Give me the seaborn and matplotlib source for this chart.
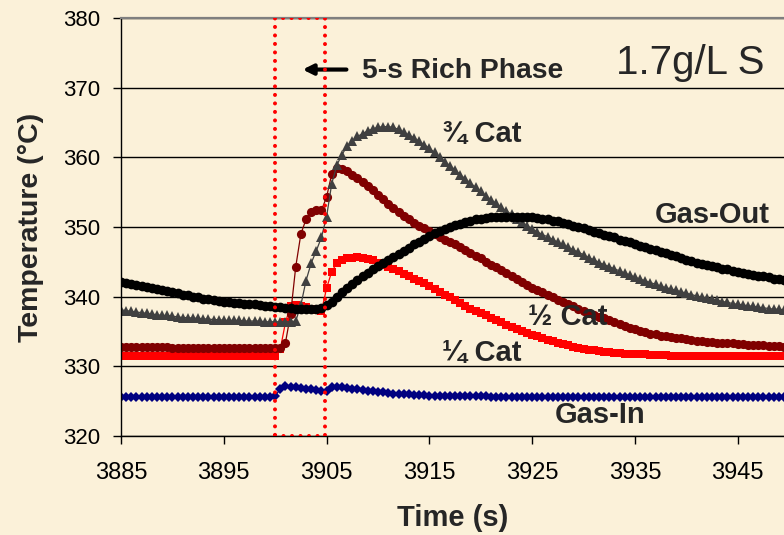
import numpy as np
import pandas as pd
import matplotlib
matplotlib.use("Agg")
import matplotlib.pyplot as plt
import seaborn as sns

# ---------------- data ----------------
t_start, t_step, n_pts = 3885.0, 0.5, 130
time_s = t_start + t_step * np.arange(n_pts)

gas_in = [
    325.6, 325.6, 325.6, 325.6, 325.6, 325.6, 325.6, 325.6, 325.6, 325.6,
    325.6, 325.6, 325.6, 325.6, 325.6, 325.6, 325.6, 325.6, 325.6, 325.6,
    325.6, 325.6, 325.6, 325.6, 325.6, 325.6, 325.6, 325.6, 325.6, 325.6,
    325.7, 326.8, 327.2, 327.1, 327.0, 326.9, 326.8, 326.7, 326.6, 326.5,
    326.4, 327.1, 327.1, 327.0, 326.9, 326.8, 326.7, 326.6, 326.5, 326.4,
    326.3, 326.3, 326.2, 326.1, 326.1, 326.0, 326.0, 325.9, 325.9, 325.9,
    325.8, 325.8, 325.8, 325.8, 325.7, 325.7, 325.7, 325.7, 325.7, 325.7,
    325.7, 325.7, 325.6, 325.6, 325.6, 325.6, 325.6, 325.6, 325.6, 325.6,
    325.6, 325.6, 325.6, 325.6, 325.6, 325.6, 325.6, 325.6, 325.6, 325.6,
    325.6, 325.6, 325.6, 325.6, 325.6, 325.6, 325.6, 325.6, 325.6, 325.6,
    325.6, 325.6, 325.6, 325.6, 325.6, 325.6, 325.6, 325.6, 325.6, 325.6,
    325.6, 325.6, 325.6, 325.6, 325.6, 325.6, 325.6, 325.6, 325.6, 325.6,
    325.6, 325.6, 325.6, 325.6, 325.6, 325.6, 325.6, 325.6, 325.6, 325.6,
]

quarter_cat = [
    331.5, 331.5, 331.5, 331.5, 331.5, 331.5, 331.5, 331.5, 331.5, 331.5,
    331.5, 331.5, 331.5, 331.5, 331.5, 331.5, 331.5, 331.5, 331.5, 331.5,
    331.5, 331.5, 331.5, 331.5, 331.5, 331.5, 331.5, 331.5, 331.5, 331.5,
    331.5, 332.5, 336.3, 338.7, 338.8, 338.7, 338.5, 338.3, 338.1, 337.9,
    341.2, 343.6, 344.8, 345.3, 345.5, 345.6, 345.7, 345.6, 345.4, 345.2,
    344.9, 344.6, 344.3, 344.0, 343.7, 343.3, 343.0, 342.6, 342.3, 341.9,
    341.5, 341.1, 340.7, 340.3, 339.9, 339.5, 339.1, 338.7, 338.3, 338.0,
    337.6, 337.3, 336.9, 336.6, 336.3, 335.9, 335.6, 335.3, 335.1, 334.8,
    334.5, 334.3, 334.0, 333.8, 333.6, 333.4, 333.2, 333.0, 332.8, 332.7,
    332.5, 332.4, 332.3, 332.2, 332.1, 332.0, 331.9, 331.9, 331.8, 331.8,
    331.7, 331.7, 331.7, 331.6, 331.6, 331.6, 331.6, 331.5, 331.5, 331.5,
    331.5, 331.5, 331.5, 331.5, 331.5, 331.5, 331.5, 331.5, 331.5, 331.5,
    331.5, 331.5, 331.5, 331.5, 331.5, 331.5, 331.5, 331.5, 331.5, 331.5,
]

half_cat = [
    332.8, 332.8, 332.8, 332.8, 332.8, 332.8, 332.8, 332.8, 332.8, 332.8,
    332.7, 332.7, 332.7, 332.7, 332.7, 332.7, 332.7, 332.7, 332.7, 332.7,
    332.7, 332.7, 332.7, 332.7, 332.7, 332.6, 332.6, 332.6, 332.6, 332.6,
    332.6, 332.7, 333.4, 337.5, 344.3, 349.0, 351.1, 352.1, 352.4, 352.4,
    354.3, 357.6, 358.4, 358.3, 358.0, 357.5, 357.1, 356.5, 355.9, 355.3,
    354.6, 354.0, 353.3, 352.7, 352.1, 351.6, 351.1, 350.6, 350.2, 349.8,
    349.4, 349.0, 348.6, 348.2, 347.9, 347.5, 347.1, 346.7, 346.3, 345.9,
    345.5, 345.0, 344.6, 344.2, 343.8, 343.4, 343.0, 342.5, 342.1, 341.7,
    341.3, 340.9, 340.6, 340.2, 339.9, 339.5, 339.2, 338.9, 338.6, 338.3,
    338.0, 337.7, 337.4, 337.1, 336.9, 336.6, 336.4, 336.1, 335.8, 335.5,
    335.3, 335.1, 334.9, 334.7, 334.6, 334.4, 334.3, 334.2, 334.1, 334.0,
    333.9, 333.8, 333.7, 333.6, 333.5, 333.5, 333.4, 333.4, 333.3, 333.3,
    333.2, 333.2, 333.1, 333.1, 333.0, 333.0, 332.9, 332.9, 332.9, 332.8,
]

three_quarter_cat = [
    338.1, 338.0, 337.9, 337.8, 337.7, 337.6, 337.5, 337.4, 337.3, 337.3,
    337.2, 337.1, 337.0, 337.0, 336.9, 336.9, 336.8, 336.8, 336.7, 336.7,
    336.6, 336.6, 336.6, 336.6, 336.5, 336.5, 336.5, 336.5, 336.4, 336.4,
    336.4, 336.4, 336.4, 336.4, 336.5, 338.8, 342.3, 344.8, 346.6, 348.5,
    351.5, 356.2, 358.9, 360.4, 361.6, 362.4, 363.0, 363.4, 363.8, 364.1,
    364.3, 364.4, 364.4, 364.3, 364.0, 363.6, 363.2, 362.8, 362.3, 361.8,
    361.3, 360.7, 360.0, 359.4, 358.8, 358.2, 357.5, 356.9, 356.3, 355.7,
    355.1, 354.5, 353.9, 353.4, 352.8, 352.3, 351.8, 351.2, 350.7, 350.2,
    349.7, 349.3, 348.9, 348.6, 348.2, 347.8, 347.5, 347.1, 346.7, 346.4,
    346.0, 345.6, 345.3, 344.9, 344.6, 344.3, 344.0, 343.7, 343.4, 343.1,
    342.8, 342.5, 342.3, 342.0, 341.8, 341.5, 341.3, 341.1, 340.9, 340.7,
    340.5, 340.3, 340.1, 339.9, 339.8, 339.6, 339.5, 339.3, 339.2, 339.0,
    338.9, 338.8, 338.7, 338.6, 338.5, 338.4, 338.3, 338.2, 338.2, 338.1,
]

gas_out = [
    342.1, 342.0, 341.8, 341.7, 341.5, 341.4, 341.2, 341.1, 340.9, 340.8,
    340.6, 340.5, 340.3, 340.2, 340.0, 339.9, 339.7, 339.6, 339.5, 339.4,
    339.3, 339.2, 339.1, 339.1, 339.0, 338.9, 338.9, 338.8, 338.7, 338.6,
    338.5, 338.5, 338.4, 338.4, 338.3, 338.3, 338.2, 338.2, 338.3, 338.4,
    338.8, 339.3, 339.9, 340.6, 341.2, 341.8, 342.4, 342.9, 343.4, 343.9,
    344.4, 344.9, 345.3, 345.7, 346.1, 346.6, 347.0, 347.5, 347.9, 348.3,
    348.7, 349.1, 349.4, 349.7, 350.0, 350.3, 350.5, 350.7, 350.9, 351.1,
    351.2, 351.3, 351.4, 351.5, 351.5, 351.5, 351.5, 351.5, 351.5, 351.5,
    351.4, 351.3, 351.2, 351.1, 350.9, 350.8, 350.6, 350.4, 350.2, 350.0,
    349.8, 349.5, 349.3, 349.1, 348.9, 348.7, 348.5, 348.2, 348.0, 347.8,
    347.6, 347.3, 347.1, 346.9, 346.7, 346.4, 346.2, 346.0, 345.8, 345.5,
    345.3, 345.1, 344.9, 344.7, 344.6, 344.4, 344.2, 344.0, 343.9, 343.7,
    343.6, 343.4, 343.3, 343.1, 343.0, 342.9, 342.8, 342.6, 342.5, 342.4,
]

series_names = ["Gas-In", "¼ Cat", "½ Cat", "¾ Cat", "Gas-Out"]
series_values = [gas_in, quarter_cat, half_cat, three_quarter_cat, gas_out]

rich_start, rich_end = 3900.0, 3904.8
x_ticks = [3885, 3895, 3905, 3915, 3925, 3935, 3945]
y_ticks = [320, 330, 340, 350, 360, 370, 380]

# ---------------- styling ----------------
bg = "#FBF1D9"
sns.set_style("ticks")
plt.rcParams["font.family"] = ["Liberation Sans", "DejaVu Sans"]

styles = {
    "Gas-In":  dict(color="#000080", marker="D", markersize=4.6),
    "¼ Cat":   dict(color="#FF0000", marker="s", markersize=6.0),
    "½ Cat":   dict(color="#800000", marker="o", markersize=6.6),
    "¾ Cat":   dict(color="#404040", marker="^", markersize=6.6),
    "Gas-Out": dict(color="#000000", marker="o", markersize=7.0),
}

fig = plt.figure(figsize=(7.84, 5.35), dpi=100, facecolor=bg)
ax = fig.add_axes([121 / 784, 1 - 436 / 535, 1 - 121 / 784, (436 - 18) / 535])
ax.set_facecolor(bg)

df = pd.DataFrame({"time": np.tile(time_s, len(series_names)),
                   "temp": np.concatenate(series_values),
                   "series": np.repeat(series_names, n_pts)})

for name in series_names:
    st = styles[name]
    sub = df[df["series"] == name]
    sns.lineplot(data=sub, x="time", y="temp", ax=ax, color=st["color"],
                 marker=st["marker"], markersize=st["markersize"],
                 markeredgewidth=0, linewidth=0.9, legend=False,
                 clip_on=True)

# rich phase window (red dotted box)
span = ax.axvspan(rich_start, rich_end, fill=False, edgecolor="#FF0000",
                  linewidth=2.9, linestyle=(0, (0.01, 2.1)), zorder=6)
span.set_capstyle("round")

ax.set_xlim(3885, 3949.5)
ax.set_ylim(320, 380)
ax.set_xticks(x_ticks)
ax.set_yticks(y_ticks)
ax.yaxis.grid(True, color="black", linewidth=1.0)
ax.xaxis.grid(False)
ax.set_axisbelow(True)

for s in ["left", "bottom"]:
    ax.spines[s].set_color("black")
    ax.spines[s].set_linewidth(1.0)
ax.spines["right"].set_visible(False)
ax.spines["top"].set_color("#7f7f7f")
ax.spines["top"].set_linewidth(1.6)

ax.tick_params(axis="x", direction="out", length=6, width=1, pad=13,
               labelsize=17, colors="black")
ax.tick_params(axis="y", direction="out", length=6, width=1, pad=9,
               labelsize=16, colors="black")

ax.set_xlabel("Time (s)", fontsize=21, fontweight="bold", labelpad=14)
ax.set_ylabel("Temperature (°C)", fontsize=20.5, fontweight="bold", labelpad=14)

# series labels
lab_kw = dict(fontsize=21, fontweight="bold", ha="center", va="center")
ax.text(3920.1, 363.3, "¾ Cat", **lab_kw)
ax.text(3942.5, 351.7, "Gas-Out", **lab_kw)
ax.text(3928.5, 337.1, "½ Cat", **lab_kw)
ax.text(3920.1, 331.9, "¼ Cat", **lab_kw)
ax.text(3931.6, 323.0, "Gas-In", **lab_kw)

ax.text(3908.4, 372.4, "5-s Rich Phase", fontsize=20.3, fontweight="bold",
        ha="left", va="center")
ax.annotate("", xy=(3902.4, 372.6), xytext=(3907.2, 372.6),
            arrowprops=dict(arrowstyle="-|>,head_length=0.6,head_width=0.3",
                            color="black", lw=3))
ax.text(3940.4, 373.6, "1.7g/L S", fontsize=29, ha="center", va="center")

fig.savefig("out.png", dpi=100, facecolor=bg)
